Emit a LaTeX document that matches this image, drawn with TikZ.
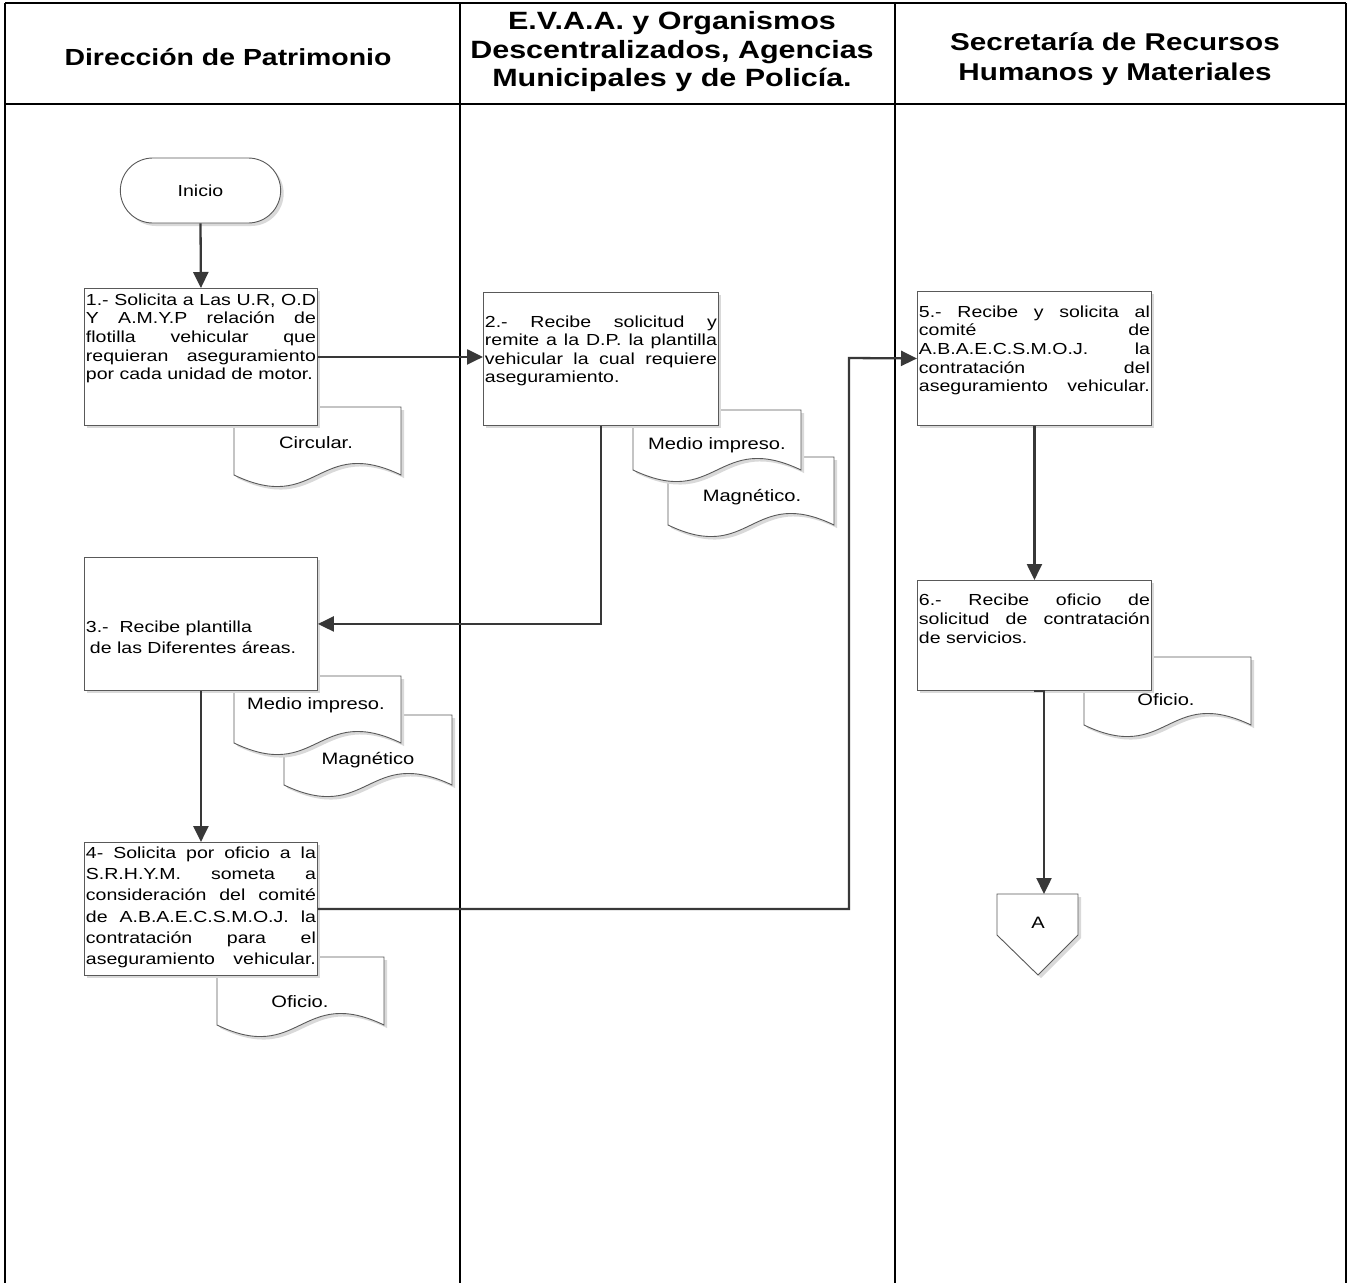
\documentclass[tikz,border=0pt]{standalone}
\usepackage{fontspec}
\setmainfont{Liberation Sans}[FakeStretch=1.22]
\usetikzlibrary{arrows.meta,shapes.misc,shadows}

\newcommand\pbtext[5]{\parbox[c][#1pt][t]{#2pt}{\fontsize{16}{#3}\selectfont\vspace*{#4pt}\strut #5}}
\newcommand\docshape[4]{%
  \fill[black!15,shift={(3,3)}] (#1,#4) -- (#1,#2) -- (#3,#2) -- (#3,#4) .. controls ({(#1+#3)/2},{#4-40}) and ({(#1+#3)/2},{#4+40}) .. (#1,#4) -- cycle;
  \filldraw[docst] (#1,#4) -- (#1,#2) -- (#3,#2) -- (#3,#4) .. controls ({(#1+#3)/2},{#4-40}) and ({(#1+#3)/2},{#4+40}) .. (#1,#4) -- cycle;}

\begin{document}
\begin{tikzpicture}[x=1pt,y=-1pt,
  tableline/.style={line width=2.6pt,black},
  header/.style={font=\bfseries, align=center, inner sep=0pt},
  proc/.style={draw=black!65, line width=0.9pt, fill=white, inner xsep=1.5pt, inner ysep=0pt, anchor=north west,
     general shadow={fill=black!15, shadow xshift=3pt, shadow yshift=-3pt}},
  docst/.style={draw=black!65, line width=0.9pt, fill=white},
  doctext/.style={font=\fontsize{16.5}{19}\selectfont, inner sep=0pt},
  term/.style={rounded rectangle, draw=black!65, line width=0.9pt, fill=white, minimum width=167pt, minimum height=65pt,
     font=\fontsize{16}{19}\selectfont, general shadow={fill=black!15, shadow xshift=3pt, shadow yshift=-3pt}},
  conn/.style={draw=black!78, line width=2.3pt, -{Triangle[length=16pt,width=15pt]}}
]
\useasboundingbox (0,0) rectangle (1348,1283);
\fill[white] (0,0) rectangle (1348,1283);

% table
\draw[tableline] (5,3) -- (1346,3);
\draw[tableline] (5,104) -- (1346,104);
\draw[tableline] (5,3) -- (5,1283);
\draw[tableline] (460,3) -- (460,1283);
\draw[tableline] (895,3) -- (895,1283);
\draw[tableline] (1346,3) -- (1346,1283);

% headers
\node[header, font=\fontsize{23.3}{31}\selectfont\bfseries] (h1) at (228,57) {Dirección de Patrimonio};
\node[header, font=\fontsize{25}{28.5}\selectfont\bfseries] (h2) at (672,52) {E.V.A.A. y Organismos\\Descentralizados, Agencias\\Municipales y de Policía.};
\node[header, font=\fontsize{24.3}{30.5}\selectfont\bfseries] (h3) at (1115,59) {Secretaría de Recursos\\Humanos y Materiales};

% documents (drawn below boxes)
\docshape{234}{407}{401}{475}
\node[doctext] (d1) at (316,443) {Circular.};
\docshape{668}{457}{834}{525}
\node[doctext] (d2b) at (752,497) {Magnético.};
\docshape{633}{410}{801}{470}
\node[doctext] (d2a) at (717,445) {Medio impreso.};
\docshape{284}{715}{452}{785}
\node[doctext] (d3b) at (368,760) {Magnético};
\docshape{234}{676}{401}{743}
\node[doctext] (d3a) at (316,705) {Medio impreso.};
\docshape{1084}{657}{1251}{725}
\node[doctext] (d6) at (1166,700) {Oficio.};
\docshape{217}{957}{384}{1025}
\node[doctext] (d4) at (300,1002) {Oficio.};

% off-page connector
\fill[black!15,shift={(3,3)}] (997,894) -- (1078,894) -- (1078,935) -- (1038,975) -- (997,935) -- cycle;
\filldraw[docst] (997,894) -- (1078,894) -- (1078,935) -- (1038,975) -- (997,935) -- cycle;
\node[doctext] (offA) at (1038,923) {A};
\coordinate (atop) at (1044,894);

% start
\node[term] (inicio) at (200.5,190.5) {Inicio};

% process boxes
\node[proc] (b1) at (84,288) {\pbtext{137}{230}{18.7}{3.6}{1.-~Solicita a Las U.R, O.D\linebreak Y A.M.Y.P relación de\linebreak flotilla vehicular que\linebreak requieran aseguramiento\linebreak por cada unidad de motor.}};
\node[proc] (b2) at (483,292) {\pbtext{133}{232}{18.5}{22}{2.-~Recibe solicitud y\linebreak remite a la D.P. la plantilla\linebreak vehicular la cual requiere\linebreak aseguramiento.}};
\node[proc] (b3) at (84,557) {\pbtext{133}{230}{21}{60}{3.-~~Recibe plantilla\\\hspace*{4pt}de las Diferentes áreas.}};
\node[proc] (b4) at (84,842) {\pbtext{133}{230}{21.3}{0.8}{\parfillskip=0pt 4-~Solicita por oficio a la\linebreak S.R.H.Y.M. someta a\linebreak consideración del comité\linebreak de A.B.A.E.C.S.M.O.J. la\linebreak contratación para el\linebreak aseguramiento vehicular.}};
\node[proc] (b5) at (917,291) {\pbtext{134}{231}{18.7}{12.6}{\parfillskip=0pt 5.-~Recibe y solicita al\linebreak comité de\linebreak A.B.A.E.C.S.M.O.J. la\linebreak contratación del\linebreak aseguramiento vehicular.}};
\node[proc] (b6) at (917,580) {\pbtext{110}{231}{19}{11.4}{6.-~Recibe oficio de\linebreak solicitud de contratación\linebreak de servicios.}};

% connectors
\draw[conn] (inicio.south) -- (b1.north);
\draw[conn] (b1.east) -- (b1.east -| b2.west);
\draw[conn] (b2.south) |- (b3.east);
\draw[conn] (b3.south) -- (b4.north);
\draw[conn] (b4.east) -| (849,358) -- (b5.west);
\draw[conn] (b5.south) -- (b6.north);
\draw[conn] (b6.south) -- (b6.south -| atop) -- (atop);
\end{tikzpicture}
\end{document}
